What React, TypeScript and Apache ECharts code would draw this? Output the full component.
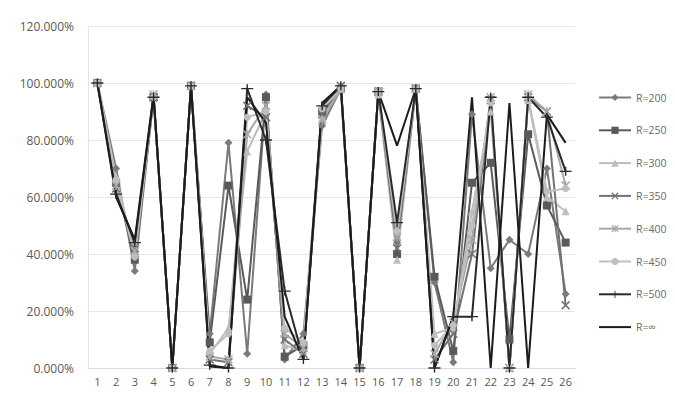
import React, { useEffect, useRef } from "react";
import * as echarts from "echarts";

const categories = ["1","2","3","4","5","6","7","8","9","10","11","12","13","14","15","16","17","18","19","20","21","22","23","24","25","26"];
const seriesNames = ["R=200", "R=250", "R=300", "R=350", "R=400", "R=450", "R=500", "R=∞"];
const r200 = [100, 70, 34, 95, 0, 99, 12, 79, 5, 96, 3, 12, 85, 98, 0, 97, 44, 98, 30, 2, 89, 35, 45, 40, 70, 26];
const r250 = [100, 65, 38, 95, 0, 99, 9, 64, 24, 95, 4, 8, 90, 98, 0, 97, 40, 98, 32, 6, 65, 72, 10, 82, 57, 44];
const r300 = [100, 67, 40, 96, 0, 99, 5, 14, 76, 90, 8, 6, 88, 98, 0, 96, 38, 98, 12, 14, 55, 90, 0, 94, 60, 55];
const r350 = [100, 63, 42, 95, 0, 99, 3, 2, 92, 88, 10, 5, 89, 99, 0, 97, 42, 98, 3, 12, 40, 94, 0, 95, 90, 22];
const r400 = [100, 64, 41, 96, 0, 99, 4, 3, 82, 92, 12, 7, 87, 98, 0, 97, 46, 98, 5, 16, 45, 95, 0, 96, 90, 64];
const r450 = [100, 66, 39, 95, 0, 99, 6, 12, 88, 90, 14, 9, 91, 98, 0, 97, 48, 98, 8, 15, 50, 93, 0, 95, 62, 63];
const r500 = [100, 61, 44, 95, 0, 99, 1, 0, 98, 80, 27, 3, 92, 99, 0, 97, 51, 98, 0, 18, 18, 95, 0, 95, 88, 69];
const rInf = [100, 60, 45, 96, 0, 99, 0.5, 0, 95, 86, 18, 3, 93, 99, 0, 97, 78, 98, 0, 18, 95, 0, 93, 0, 89, 79];
const yTicks = [0, 20, 40, 60, 80, 100, 120];

const X_PATH = "path://M0,1.2L1.2,0L5,3.8L8.8,0L10,1.2L6.2,5L10,8.8L8.8,10L5,6.2L1.2,10L0,8.8L3.8,5Z";
const STAR_PATH = "path://M0,1.2L1.2,0L5,3.8L8.8,0L10,1.2L6.2,5L10,8.8L8.8,10L5,6.2L1.2,10L0,8.8L3.8,5ZM4.3,0L5.7,0L5.7,10L4.3,10Z";
const PLUS_PATH = "path://M5.3,0L6.7,0L6.7,4.3L12,4.3L12,5.7L6.7,5.7L6.7,10L5.3,10L5.3,5.7L0,5.7L0,4.3L5.3,4.3Z";
const BAR_PATH = "path://M0,0L32,0L32,2L0,2Z";

export default function App() {
  const ref = useRef<HTMLDivElement>(null);
  useEffect(() => {
    if (!ref.current) return;
    const chart = echarts.init(ref.current, null, { renderer: "svg" });
    const data = [r200, r250, r300, r350, r400, r450, r500, rInf];
    const colors = ["#7a7a7a", "#5a5a5a", "#bdbdbd", "#727272", "#a8a8a8", "#bfbfbf", "#2a2a2a", "#1c1c1c"];
    const symbols = ["diamond", "rect", "triangle", X_PATH, STAR_PATH, "circle", PLUS_PATH, "none"];
    const sizes: any[] = [8, 8, 8, 9, 9, 7, [12, 9], 0];
    chart.setOption({
      animation: false,
      backgroundColor: "#ffffff",
      textStyle: { fontFamily: "Open Sans" },
      grid: { left: 88, right: 100, top: 26, bottom: 26, containLabel: false },
      legend: {
        orient: "vertical",
        left: 598,
        top: 92,
        padding: 0,
        itemGap: 21.8,
        itemWidth: 32,
        itemHeight: 9,
        textStyle: { color: "#6a6a6a", fontSize: 10.5, fontFamily: "Open Sans", overflow: "none" },
        data: seriesNames.map((n, i) =>
          n === "R=∞" ? { name: n, icon: BAR_PATH, itemStyle: { color: colors[i] } } : { name: n }
        ),
      },
      xAxis: {
        type: "category",
        data: categories,
        boundaryGap: true,
        axisTick: { show: false },
        axisLine: { lineStyle: { color: "#d9d9d9" } },
        axisLabel: { color: "#595959", fontSize: 11, interval: 0, margin: 8 },
      },
      yAxis: {
        type: "value",
        min: yTicks[0],
        max: yTicks[yTicks.length - 1],
        interval: 20,
        axisLine: { show: true, lineStyle: { color: "#e3e3e3" } },
        axisTick: { show: false },
        splitLine: { lineStyle: { color: "#e6e6e6" } },
        axisLabel: {
          color: "#595959",
          fontSize: 12,
          margin: 14,
          formatter: (v: number) => v.toFixed(3) + "%",
        },
      },
      series: seriesNames.map((name, i) => ({
        name,
        type: "line",
        data: data[i],
        symbol: symbols[i],
        symbolSize: sizes[i],
        showSymbol: symbols[i] !== "none",
        lineStyle: { color: colors[i], width: 2 },
        itemStyle: { color: colors[i] },
      })),
    });
    return () => chart.dispose();
  }, []);
  return <div ref={ref} style={{ width: 675, height: 394, marginLeft: -8, marginTop: -8 }} />;
}
